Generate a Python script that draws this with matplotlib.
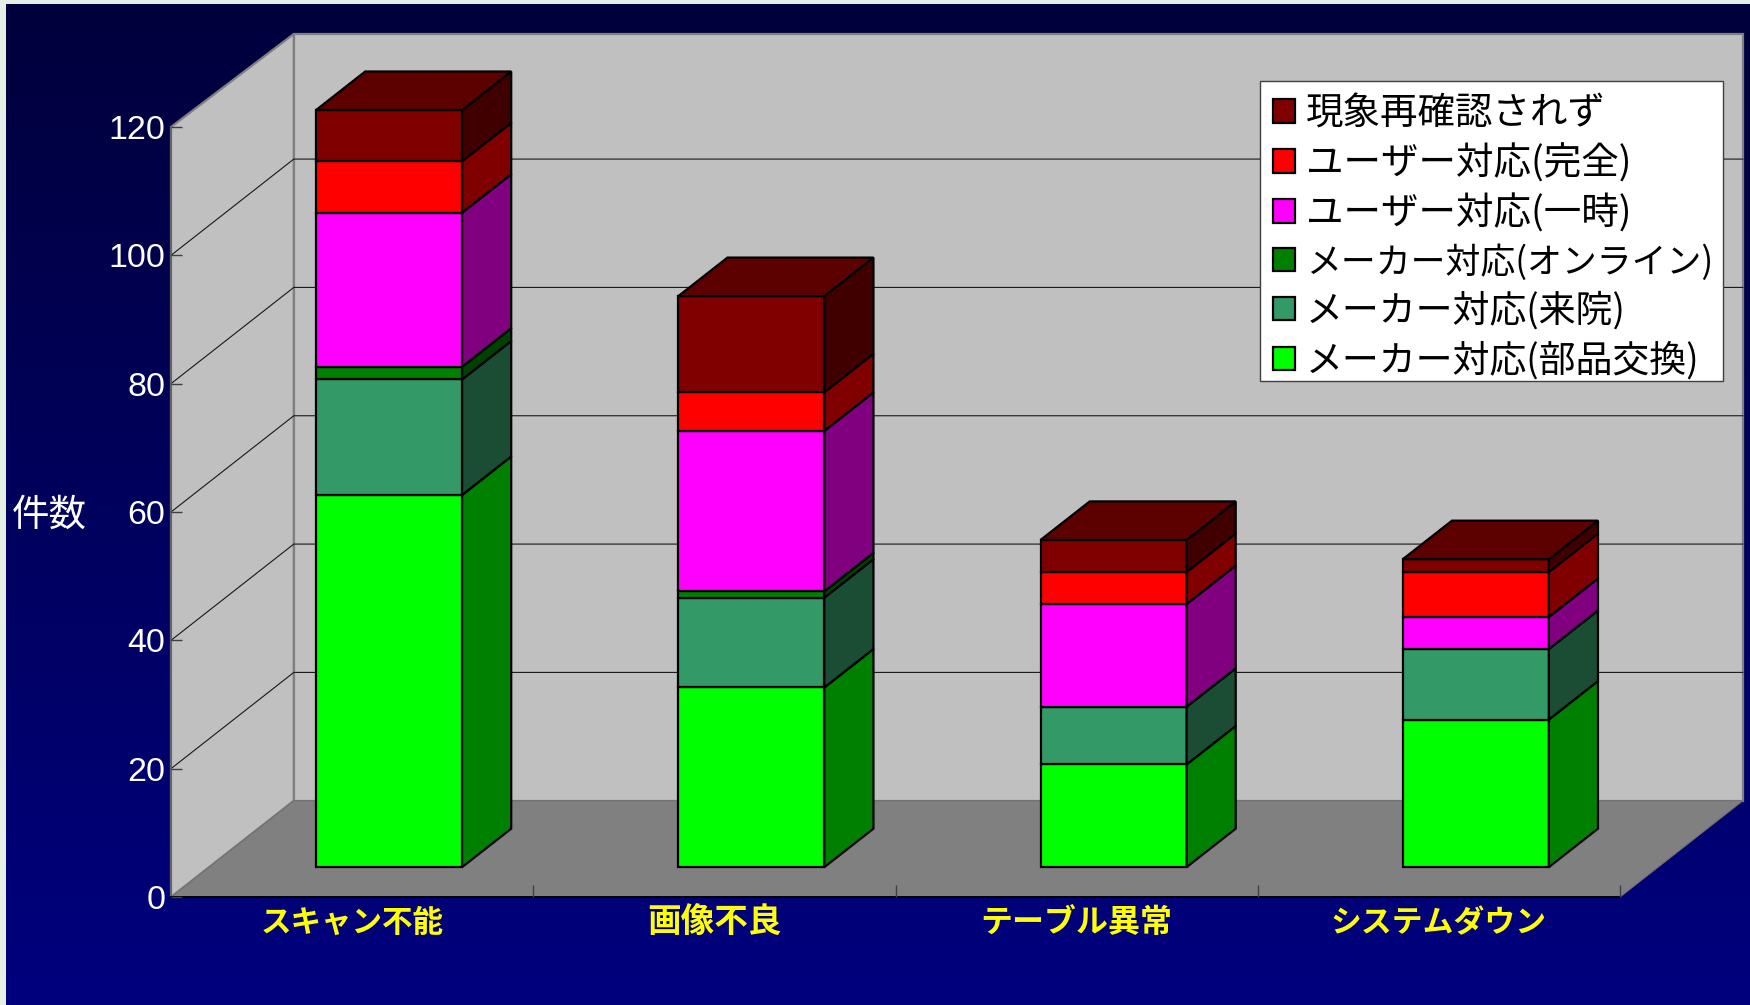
import numpy as np
import matplotlib
matplotlib.use('Agg')
import matplotlib.pyplot as plt
from matplotlib.colors import LinearSegmentedColormap
from matplotlib.patches import Patch, Polygon, Rectangle

# --- Data ---
categories = ['スキャン不能', '画像不良', 'テーブル異常', 'システムダウン']
series_names = ['メーカー対応(部品交換)', 'メーカー対応(来院)', 'メーカー対応(オンライン)',
                'ユーザー対応(一時)', 'ユーザー対応(完全)', '現象再確認されず']
parts_swap = [58, 28, 16, 23]
visit = [18, 14, 9, 11]
online = [2, 1, 0, 0]
user_temp = [24, 25, 16, 5]
user_full = [8, 6, 5, 7]
not_reproduced = [8, 15, 5, 2]
y_ticks = [0, 20, 40, 60, 80, 100, 120]

all_series = [parts_swap, visit, online, user_temp, user_full, not_reproduced]
front_colors = ['#00FF00', '#339966', '#008000', '#FF00FF', '#FF0000', '#800000']
side_colors = ['#008000', '#1A4D33', '#004000', '#800080', '#800000', '#400000']
top_color = '#5C0000'

# per-label font sizes, the original font has narrower kana than Noto
category_sizes = [22, 24.2, 23, 22.2]
legend_sizes = [27, 27, 27, 25.1, 26.6, 26.6]

# --- Fake 3D box geometry, in data units ---
DEPTH_X = 0.339
DEPTH_Y = 15.0
WALL_TOP = 119.5
BAR_WIDTH = 0.403
BAR_SHIFT = -0.003
BAR_D0 = 0.31
BAR_D1 = 0.71

W, H = 1750, 1005
CJK = 'Noto Sans CJK JP'


def pt(x, y, d=0.0):
    return (x + d * DEPTH_X, y + d * DEPTH_Y)


fig = plt.figure(figsize=(W / 100, H / 100), dpi=100, facecolor='#E6EFE6')

# --- Background gradient ---
bg = fig.add_axes([6 / W, 0, 1 - 6 / W, 1 - 4 / H])
cmap = LinearSegmentedColormap.from_list('navy', ['#00003C', '#00007E'])
bg.imshow(np.linspace(0, 1, 256).reshape(-1, 1), cmap=cmap, aspect='auto')
bg.axis('off')

# --- Main axes is the front plane of the box ---
ax = fig.add_axes([171 / W, 1 - 897 / H, 1449 / W, 770 / H])
ax.set_xlim(0, 4)
ax.set_ylim(0, 120)
ax.patch.set_visible(False)

# walls and floor
wall_edge = dict(edgecolor='#808080', linewidth=1.6, clip_on=False)
ax.add_patch(Polygon([pt(0, 0), pt(0, 120), pt(0, WALL_TOP, 1), pt(0, 0, 1)],
                     facecolor='#C0C0C0', zorder=0.2, **wall_edge))
ax.add_patch(Polygon([pt(0, 0, 1), pt(0, WALL_TOP, 1), pt(4, WALL_TOP, 1), pt(4, 0, 1)],
                     facecolor='#C0C0C0', zorder=0.2, **wall_edge))

# gridlines on both walls
for v in y_ticks[1:-1]:
    a, b, c = pt(0, v), pt(0, v, 1), pt(4, v, 1)
    ax.plot([a[0], b[0], c[0]], [a[1], b[1], c[1]], color='#181818', lw=0.8,
            clip_on=False, zorder=0.3)

ax.add_patch(Polygon([pt(0, 0), pt(0, 0, 1), pt(4, 0, 1), pt(4, 0)],
                     facecolor='#808080', edgecolor='#707070', linewidth=0.8,
                     clip_on=False, zorder=0.4))

# --- Stacked boxes ---
box_edge = dict(edgecolor='black', linewidth=1.6, joinstyle='miter', clip_on=False)
for i in range(len(categories)):
    x0 = i + 0.5 + BAR_SHIFT - BAR_WIDTH / 2
    x1 = i + 0.5 + BAR_SHIFT + BAR_WIDTH / 2
    base = 0
    for values, fc, sc in zip(all_series, front_colors, side_colors):
        v = values[i]
        if v == 0:
            continue
        top = base + v
        ax.add_patch(Polygon([pt(x0, base, BAR_D0), pt(x1, base, BAR_D0),
                              pt(x1, top, BAR_D0), pt(x0, top, BAR_D0)],
                             facecolor=fc, zorder=1, **box_edge))
        ax.add_patch(Polygon([pt(x1, base, BAR_D0), pt(x1, base, BAR_D1),
                              pt(x1, top, BAR_D1), pt(x1, top, BAR_D0)],
                             facecolor=sc, zorder=1, **box_edge))
        base = top
    ax.add_patch(Polygon([pt(x0, base, BAR_D0), pt(x1, base, BAR_D0),
                          pt(x1, base, BAR_D1), pt(x0, base, BAR_D1)],
                         facecolor=top_color, zorder=1, **box_edge))

# --- Axes ---
for side in ['top', 'right']:
    ax.spines[side].set_visible(False)
ax.spines['left'].set_color('#606060')
ax.spines['left'].set_linewidth(1.2)
ax.spines['bottom'].set_color('black')
ax.spines['bottom'].set_linewidth(1.4)

ax.set_yticks(y_ticks)
ax.set_yticklabels([str(v) for v in y_ticks], family='Liberation Sans', fontsize=24.5, color='white')
ax.tick_params(axis='y', direction='in', length=8, width=1, color='#404040', pad=4)

ax.set_xticks(np.arange(len(categories)) + 0.5)
ax.set_xticklabels(categories, family=CJK, fontweight='bold', color='#FFFF00')
for label, size in zip(ax.get_xticklabels(), category_sizes):
    label.set_fontsize(size)
ax.tick_params(axis='x', which='major', length=0, pad=7)
ax.set_xticks(np.arange(1, len(categories) + 1), minor=True)
ax.tick_params(axis='x', which='minor', direction='in', length=9, width=1, color='#404040')
ax.set_axisbelow(False)

ax.set_ylabel('件数', family=CJK, fontsize=27, color='white', rotation=0, va='center', ha='center')
ax.yaxis.set_label_coords((49 - 171) / 1449, (897 - 515) / 770)

# --- Legend, the white box is drawn apart so its size can match ---
ax.add_patch(Rectangle((1260 / W, 1 - 381 / H), 463 / W, 300 / H, transform=fig.transFigure,
                       facecolor='white', edgecolor='#404040', linewidth=1.0,
                       clip_on=False, zorder=4))
handles = [Patch(facecolor=c, edgecolor='black', linewidth=1.6, label=n)
           for c, n in zip(front_colors[::-1], series_names[::-1])]
leg = ax.legend(handles=handles, loc='upper left',
                bbox_to_anchor=(1260 / W, 1 - 81 / H), bbox_transform=fig.transFigure,
                borderaxespad=0, frameon=False, prop={'family': CJK, 'size': 27},
                handlelength=0.58, handleheight=0.58, handletextpad=0.3,
                labelspacing=0.29, borderpad=0.35, labelcolor='black')
for text, size in zip(leg.get_texts(), legend_sizes):
    text.set_fontsize(size)
leg.set_zorder(5)

fig.savefig('out.png', dpi=100, facecolor=fig.get_facecolor())
